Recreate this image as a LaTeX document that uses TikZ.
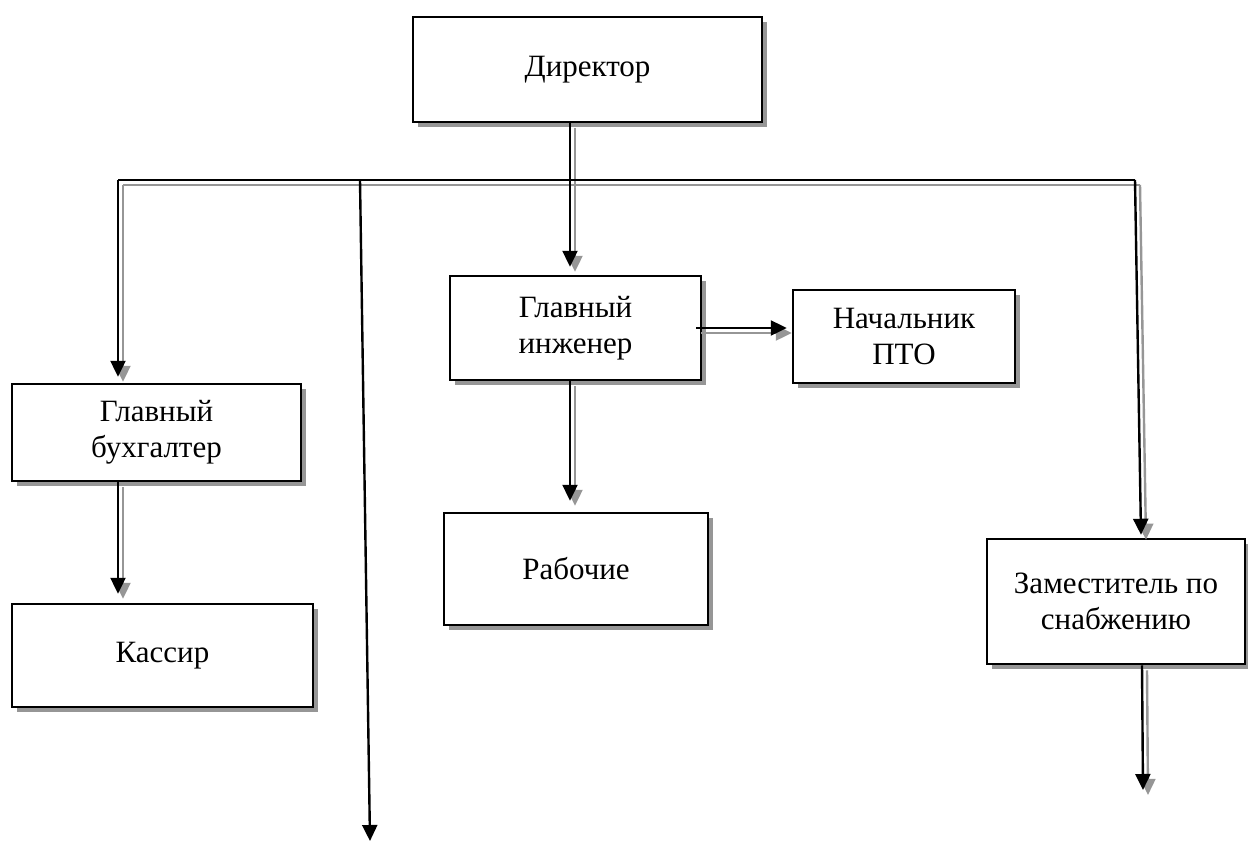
\documentclass[tikz,border=0pt]{standalone}
\usepackage{fontspec}
\setmainfont{Liberation Serif}
\usetikzlibrary{arrows.meta,shadows,calc}
\definecolor{shd}{RGB}{150,150,150}
\tikzset{
  box/.style={draw=black, line width=2.5pt, fill=white, align=center, inner sep=0pt,
    font=\fontsize{31}{36}\selectfont,
    drop shadow={shadow xshift=5pt, shadow yshift=-5pt, fill=shd, opacity=1, draw=none}},
  conn/.style={line width=2.4pt, -{Triangle[width=15pt,length=16pt]}},
  busline/.style={line width=1.6pt},
  shadowlayer/.style={transform canvas={shift={(5pt,-5pt)}}, color=shd}
}
\newcommand\myconnectors{%
  \draw[conn] ($(dir.south)+(-17.5,0)$) -- ($(gi.north)+(-5.5,-8)$);
  \draw[busline] (bl) -- (br);
  \draw[conn] (bl) -- ($(gb.north)+(-38.5,-6)$);
  \draw[conn] (br) -- ($(zam.north)+(25,-3)$);
  \draw[conn] ($(gi.east)+(-6,0)$) -- ($(pto.west)+(-5,-8.5)$);
  \draw[conn] ($(gi.south)+(-5.5,0)$) -- ($(rab.north)+(-6,-11)$);
  \draw[conn] ($(gb.south)+(-38.5,0)$) -- ($(kas.north)+(-44.5,-9)$);
  \draw[conn] ($(zam.south)+(26,0)$) -- (zend);
}
\begin{document}
\begin{tikzpicture}[x=1pt,y=-1pt]
\useasboundingbox (0,0) rectangle (1248,843);
\node[box, minimum width=349pt, minimum height=105pt] (dir) at (587.5,69.5) {Директор};
\node[box, minimum width=251pt, minimum height=104pt] (gi) at (575.5,328) {Главный\\инженер};
\node[box, minimum width=222pt, minimum height=93pt] (pto) at (904,336.5) {Начальник\\ПТО};
\node[box, minimum width=289pt, minimum height=97pt] (gb) at (156.5,432.5) {Главный\\бухгалтер};
\node[box, minimum width=301pt, minimum height=103pt] (kas) at (162.5,655.5) {Кассир};
\node[box, minimum width=264pt, minimum height=112pt] (rab) at (576,569) {Рабочие};
\node[box, minimum width=258pt, minimum height=125pt] (zam) at (1116,601.5) {Заместитель по\\снабжению};
\coordinate (bl) at (118,180);
\coordinate (br) at (1135,180);
\coordinate (sl) at (360,180);
\coordinate (ss) at (370,841);
\coordinate (zend) at (1143,790);
\begin{scope}[shadowlayer]
  \myconnectors
\end{scope}
\myconnectors
\draw[conn] (sl) -- (ss);
\end{tikzpicture}
\end{document}
